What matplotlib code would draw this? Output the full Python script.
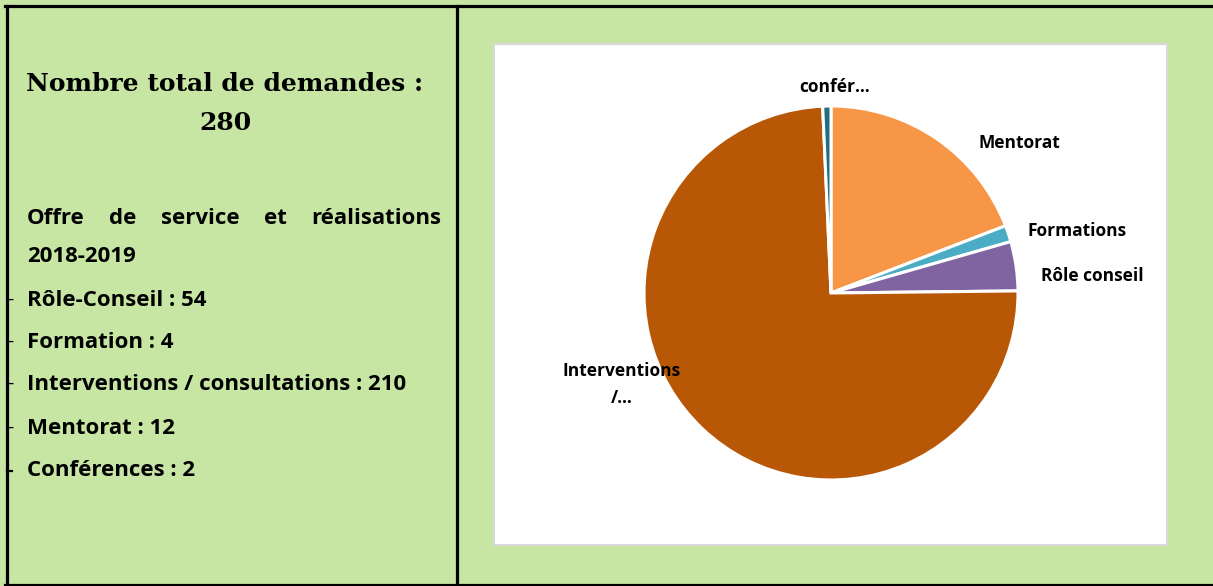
import matplotlib
matplotlib.use("Agg")
import matplotlib.pyplot as plt
from matplotlib.patches import Rectangle
from matplotlib.lines import Line2D

# ---- data ----
pie_labels = ["Mentorat", "Formations", "Rôle conseil", "Interventions\n/…", "confér…"]
pie_values = [54, 4, 12, 210, 2]
pie_colors = ["#F79646", "#4BACC6", "#8064A2", "#B85706", "#1F6E83"]
# label positions (in pie-radius units, relative to centre)
label_pos = [(1.01, 0.80), (1.315, 0.33), (1.40, 0.09), (-1.12, -0.49), (0.02, 1.10)]

title_lines = ["Nombre total de demandes :", "280"]
subtitle_words = ["Offre", "de", "service", "et", "réalisations"]
subtitle_line2 = "2018-2019"
list_items = ["Rôle-Conseil : 54", "Formation : 4", "Interventions / consultations : 210",
              "Mentorat : 12", "Conférences : 2"]

W, H = 1213, 586
fig = plt.figure(figsize=(W / 100, H / 100), dpi=100)
fig.patch.set_facecolor("#C7E6A4")

def fx(px):
    return px / W

def fy(py):
    return 1 - py / H

# borders
lw_px = 3.2
lw = lw_px * 72 / 100
fig.add_artist(Line2D([fx(5), fx(1213)], [fy(5.5), fy(5.5)], color="black", lw=lw))
fig.add_artist(Line2D([fx(7), fx(7)], [fy(5.5), fy(586)], color="black", lw=lw))
fig.add_artist(Line2D([fx(5), fx(1213)], [fy(584.5), fy(584.5)], color="black", lw=lw))
fig.add_artist(Line2D([fx(456.5), fx(456.5)], [fy(5.5), fy(586)], color="black", lw=lw))

# chart area
fig.add_artist(Rectangle((fx(494), fy(545)), fx(1167) - fx(494), fy(44) - fy(545),
                         facecolor="white", edgecolor="#D9D9D9", lw=1.5, zorder=-5))

# pie axes covering the chart area
cx, cy, r = 831, 293, 187
ax = fig.add_axes([fx(494), fy(545), fx(1167) - fx(494), fy(44) - fy(545)])
ax.set_zorder(2)
ax.set_facecolor("none")
wedges, _ = ax.pie(pie_values, colors=pie_colors, startangle=90, counterclock=False,
                   wedgeprops=dict(edgecolor="white", linewidth=2.2))
ax.set_xlim((494 - cx) / r, (1167 - cx) / r)
ax.set_ylim((cy - 545) / r, (cy - 44) / r)
ax.set_aspect("auto")
ax.axis("off")

lab_font = dict(family="Open Sans", fontweight="bold", fontsize=12.5, color="black")
for lab, (lx, ly) in zip(pie_labels, label_pos):
    ax.text(lx, ly, lab, ha="center", va="center", linespacing=1.6, **lab_font)

# left panel texts
tfont = dict(family="DejaVu Serif", fontweight="bold", fontsize=18, color="black")
fig.text(fx(225), fy(84), title_lines[0], ha="center", va="center", **tfont)
fig.text(fx(225), fy(123), title_lines[1], ha="center", va="center", **tfont)

bfont = dict(family="Open Sans", fontweight="bold", fontsize=16, color="black")
# justified first subtitle line from x=27 to x=441
renderer = fig.canvas.get_renderer()
texts = [fig.text(0, fy(219), w, ha="left", va="center", **bfont) for w in subtitle_words]
widths = [t.get_window_extent(renderer).width for t in texts]
gap = (441 - 27 - sum(widths)) / (len(widths) - 1)
x = 27
for t, wd in zip(texts, widths):
    t.set_x(fx(x))
    x += wd + gap
fig.text(fx(27), fy(256), subtitle_line2, ha="left", va="center", **bfont)

ys = [300, 342, 384, 428, 470]
for i, (item, yy) in enumerate(zip(list_items, ys)):
    fig.text(fx(27), fy(yy), item, ha="left", va="center", **bfont)
    if i < len(list_items) - 1:
        fig.text(fx(7.5), fy(yy), "-", ha="left", va="center",
                 family="Open Sans", fontsize=14, color="black")
    else:
        fig.add_artist(Line2D([fx(7), fx(12)], [fy(471), fy(471)], color="black", lw=1.6))

fig.savefig("out.png", dpi=100, facecolor=fig.get_facecolor())
